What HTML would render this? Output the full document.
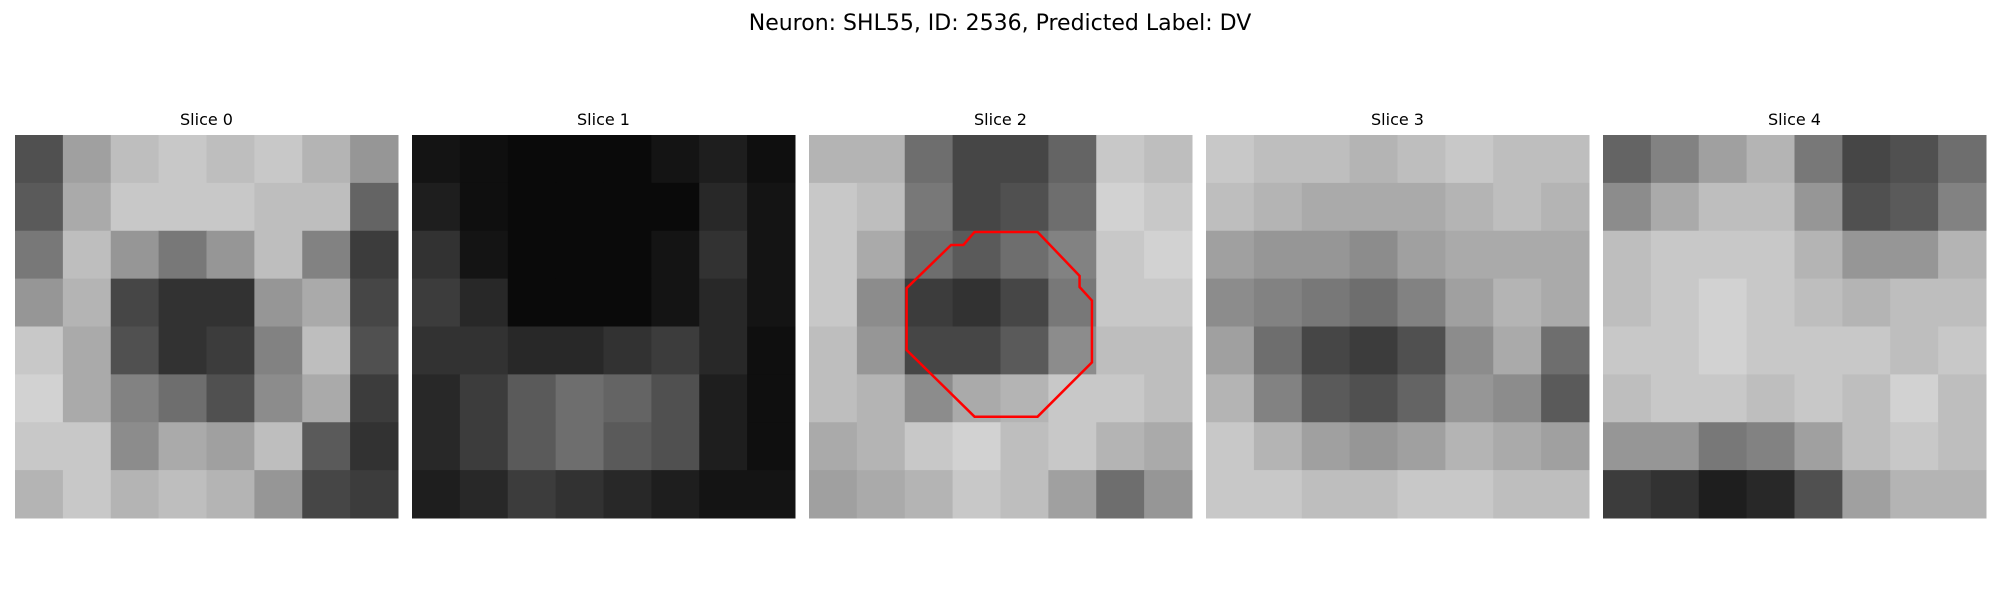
<!DOCTYPE html>
<html><head><meta charset="utf-8"><style>
html,body{margin:0;padding:0;background:#fff;}
svg{display:block;font-family:"DejaVu Sans","Liberation Sans",sans-serif;}
</style></head><body>
<svg id="fig" width="2000" height="600" viewBox="0 0 2000 600">
<text x="1000" y="30" text-anchor="middle" font-size="22" fill="#000">Neuron: SHL55, ID: 2536, Predicted Label: DV</text>
<g id="panels"></g>
</svg>
<script>
const sliceTitles = ["Slice 0","Slice 1","Slice 2","Slice 3","Slice 4"];
const slice0 = [
[80,160,190,200,190,200,180,150],
[90,170,200,200,200,190,190,100],
[120,190,150,120,150,190,130,60],
[150,180,70,50,50,150,170,70],
[200,170,80,50,60,130,190,80],
[210,170,130,110,80,140,170,60],
[200,200,140,170,160,190,90,50],
[180,200,180,190,180,150,70,60]];
const slice1 = [
[20,15,10,10,10,20,30,15],
[30,15,10,10,10,10,40,20],
[50,20,10,10,10,20,50,20],
[60,40,10,10,10,20,40,20],
[50,50,40,40,50,60,40,15],
[40,60,90,110,100,80,30,15],
[40,60,90,110,90,80,30,15],
[30,40,60,50,40,30,20,20]];
const slice2 = [
[180,180,110,70,70,100,200,190],
[200,190,120,70,80,110,210,200],
[200,170,110,90,110,130,200,210],
[200,140,60,50,70,120,200,200],
[190,150,70,70,90,140,190,190],
[190,180,140,170,180,200,200,190],
[170,180,200,210,190,200,180,170],
[160,170,180,200,190,160,110,150]];
const slice3 = [
[200,190,190,180,190,200,190,190],
[190,180,170,170,170,180,190,180],
[160,150,150,140,160,170,170,170],
[140,130,120,110,130,160,180,170],
[160,110,70,60,80,140,170,110],
[180,130,90,80,100,150,140,90],
[200,180,160,150,160,180,170,160],
[200,200,190,190,200,200,190,190]];
const slice4 = [
[100,130,160,180,120,70,80,110],
[140,170,190,190,150,80,90,130],
[190,200,200,200,180,150,150,180],
[190,200,210,200,190,180,190,190],
[200,200,210,200,200,200,190,200],
[190,200,200,190,200,190,210,190],
[150,150,120,130,160,190,200,190],
[60,50,30,40,80,160,180,180]];
const slices = [slice0,slice1,slice2,slice3,slice4];
// contour on slice 2, in image pixel units (31x31 image)
const contourX = [13.4,18.5,21.9,21.9,22.9,22.9,18.5,13.4,7.9,7.9,11.5,12.5];
const contourY = [7.85,7.85,11.4,12.3,13.4,18.4,22.8,22.8,17.4,12.4,8.9,8.9];
const contourSlice = 2;

const NS = "http://www.w3.org/2000/svg";
const g = document.getElementById("panels");
const px0 = 15, stride = 397, py0 = 135, size = 383, imgPx = 31;
function panelX(i){return px0 + i*stride;}
function imgScale(v){return v*size/imgPx;}
slices.forEach((grid,i)=>{
  const pg = document.createElementNS(NS,"g");
  
  
  g.appendChild(pg);
  const t = document.createElementNS(NS,"text");
  
  
  t.setAttribute("x", panelX(i)+size/2);
  t.setAttribute("y", 125);
  t.setAttribute("text-anchor","middle");
  t.setAttribute("font-size","16");
  t.textContent = sliceTitles[i];
  pg.appendChild(t);
  const n = grid.length, cs = size/n;
  grid.forEach((row,r)=>row.forEach((v,c)=>{
    const rc = document.createElementNS(NS,"rect");
    
    
    rc.setAttribute("x", panelX(i)+c*cs);
    rc.setAttribute("y", py0+r*cs);
    rc.setAttribute("width", cs+0.5);
    rc.setAttribute("height", cs+0.5);
    rc.setAttribute("fill", `rgb(${v},${v},${v})`);
    pg.appendChild(rc);
  }));
});
const pts = contourX.map((x,k)=>(panelX(contourSlice)+imgScale(x))+","+(py0+imgScale(contourY[k]))).join(" ");
const poly = document.createElementNS(NS,"polygon");


poly.setAttribute("points", pts);
poly.setAttribute("fill","none");
poly.setAttribute("stroke","#ff0000");
poly.setAttribute("stroke-width","2.5");
g.appendChild(poly);
</script>
</body></html>
